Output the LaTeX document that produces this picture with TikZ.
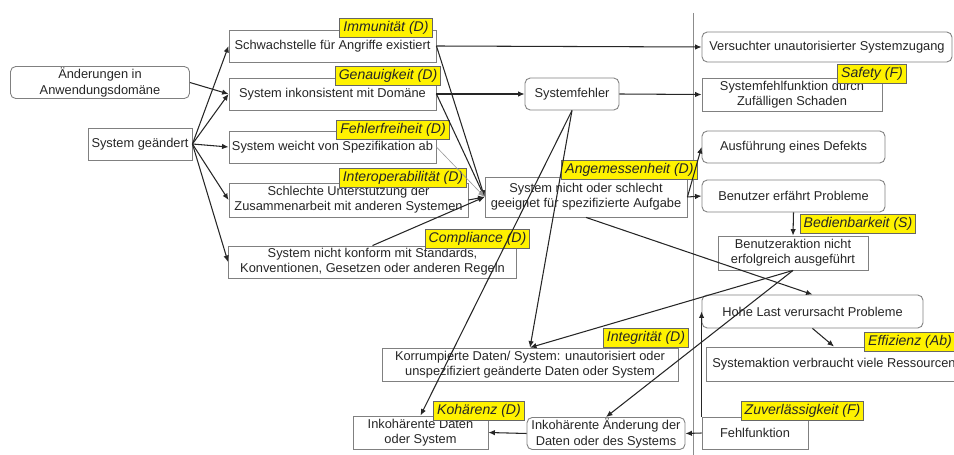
\documentclass[tikz,border=0pt]{standalone}
\usepackage{fontspec}
\setmainfont{Liberation Sans}
\usetikzlibrary{arrows.meta}

\begin{document}
\begin{tikzpicture}[line width=0.5pt,>={Latex[length=1.3mm,width=1.1mm]},
  box/.style={draw=black!50,fill=white,align=center,inner sep=1pt,
    minimum height=0.64cm,text=black!85,font=\fontsize{7.3}{8.6}\selectfont},
  rbox/.style={box,rounded corners=3pt},
  tag/.style={draw=black!60,fill=yellow,inner xsep=2pt,inner ysep=1pt,
    minimum height=0.38cm,text=black!85,font=\fontsize{8}{9}\selectfont\itshape},
  conn/.style={->,draw=black!85,line width=0.6pt},
  thinconn/.style={->,draw=black!40,line width=0.35pt}]
  \useasboundingbox (0,0) rectangle (19.08,-9.1);
  % Trennlinie
  \draw[black!45] (13.86,-0.26) -- (13.86,-9.1);
  % Ursachen
  \node[rbox,minimum width=3.58cm,minimum height=0.62cm] (aend) at (2.0,-1.65) {Änderungen in\\Anwendungsdomäne};
  \node[box,minimum width=2.08cm] (geaend) at (2.8,-2.88) {System geändert};
  \node[box,minimum width=4.14cm] (schwach) at (6.65,-0.92) {Schwachstelle für Angriffe existiert};
  \node[box,minimum width=4.14cm] (inkons) at (6.65,-1.88) {System inkonsistent mit Domäne};
  \node[box,minimum width=4.14cm] (weicht) at (6.65,-2.94) {System weicht von Spezifikation ab};
  \node[box,minimum width=4.78cm,minimum height=0.68cm] (interop) at (6.97,-4.0) {Schlechte Unterstützung der\\Zusammenarbeit mit anderen Systemen};
  \node[box,minimum width=5.76cm] (konform) at (7.45,-5.24) {System nicht konform mit Standards,\\Konventionen, Gesetzen oder anderen Regeln};
  % Mitte
  \node[rbox,minimum width=1.88cm] (sysf) at (11.44,-1.88) {Systemfehler};
  \node[box,minimum width=4.04cm,minimum height=0.8cm] (geeignet) at (11.72,-3.94) {System nicht oder schlecht\\geeignet für spezifizierte Aufgabe};
  \node[box,minimum width=5.92cm,minimum height=0.66cm] (korr) at (10.6,-7.29) {Korrumpierte Daten/ System: unautorisiert oder\\unspezifiziert geänderte Daten oder System};
  \node[box,minimum width=2.7cm,minimum height=0.66cm] (inkdat) at (8.41,-8.65) {Inkohärente Daten\\oder System};
  \node[rbox,minimum width=3.16cm,minimum height=0.62cm] (inkaend) at (12.12,-8.67) {Inkohärente Änderung der\\Daten oder des Systems};
  % Auswirkungen
  \node[rbox,minimum width=5.0cm,minimum height=0.6cm] (zugang) at (16.54,-0.94) {Versuchter unautorisierter Systemzugang};
  \node[box,minimum width=3.6cm,minimum height=0.66cm] (schaden) at (15.84,-1.89) {Systemfehlfunktion durch\\Zufälligen Schaden};
  \node[rbox,minimum width=3.66cm] (defekt) at (15.87,-2.94) {Ausführung eines Defekts};
  \node[rbox,minimum width=3.66cm] (erfahrt) at (15.87,-3.92) {Benutzer erfährt Probleme};
  \node[box,minimum width=3.0cm,minimum height=0.68cm] (aktion) at (15.86,-5.06) {Benutzeraktion nicht\\erfolgreich ausgeführt};
  \node[rbox,minimum width=4.42cm,minimum height=0.66cm] (last) at (16.25,-6.23) {Hohe Last verursacht Probleme};
  \node[box,minimum width=5.12cm,minimum height=0.68cm] (ressourcen) at (16.68,-7.28) {Systemaktion verbraucht viele Ressourcen};
  \node[box,minimum width=2.12cm] (fehlfkt) at (15.1,-8.66) {Fehlfunktion};
  % Qualitaetsmerkmale
  \node[tag] (timmun) at (7.72,-0.55) {Immunität (D)};
  \node[tag] (tgenau) at (7.76,-1.52) {Genauigkeit (D)};
  \node[tag] (tfehler) at (7.86,-2.6) {Fehlerfreiheit (D)};
  \node[tag] (tinterop) at (8.06,-3.56) {Interoperabilität (D)};
  \node[tag] (tcompl) at (9.55,-4.78) {Compliance (D)};
  \node[tag] (tangem) at (12.59,-3.4) {Angemessenheit (D)};
  \node[tag] (tsafety) at (17.44,-1.47) {Safety (F)};
  \node[tag] (tbedien) at (17.16,-4.48) {Bedienbarkeit (S)};
  \node[tag] (tinteg) at (12.92,-6.76) {Integrität (D)};
  \node[tag] (teffiz) at (18.2,-6.83) {Effizienz (Ab)};
  \node[tag] (tkohaer) at (9.58,-8.21) {Kohärenz (D)};
  \node[tag] (tzuverl) at (16.05,-8.22) {Zuverlässigkeit (F)};
  % Verbindungen
  \draw[conn] (aend.east) -- (inkons.west);
  \foreach \z in {schwach,inkons,weicht,interop,konform}
    \draw[conn] (geaend.east) -- (\z.west);
  \draw[conn] (schwach.east) -- (zugang.west);
  \draw[conn] (inkons.east) -- (sysf.west);
  \draw[conn] (sysf.east) -- (schaden.west);
  \foreach \z in {schwach.east,inkons.east,interop.east,konform.north}
    \draw[conn] (\z) -- (geeignet.west);
  \draw[thinconn] (weicht.east) -- (geeignet.west);
  \draw[conn] (geeignet.east) -- (defekt.west);
  \draw[conn] (geeignet.east) -- (erfahrt.west);
  \draw[conn] (geeignet.south) -- (last.north);
  \draw[conn] (sysf.south) -- (korr.north);
  \draw[conn] (sysf.south) -- (inkdat.north);
  \draw[conn] (erfahrt.south) -- (aktion.north);
  \draw[conn] (aktion.south) -- (korr.north);
  \draw[conn] (aktion.south) -- (inkaend.north);
  \draw[conn] (last.south) -- (ressourcen.north);
  \draw[conn] (fehlfkt.north west) -- (fehlfkt.north west |- last.west);
  \draw[conn] (fehlfkt.west) -- (inkaend.east);
  \draw[conn] (inkaend.west) -- (inkdat.east);
\end{tikzpicture}
\end{document}
